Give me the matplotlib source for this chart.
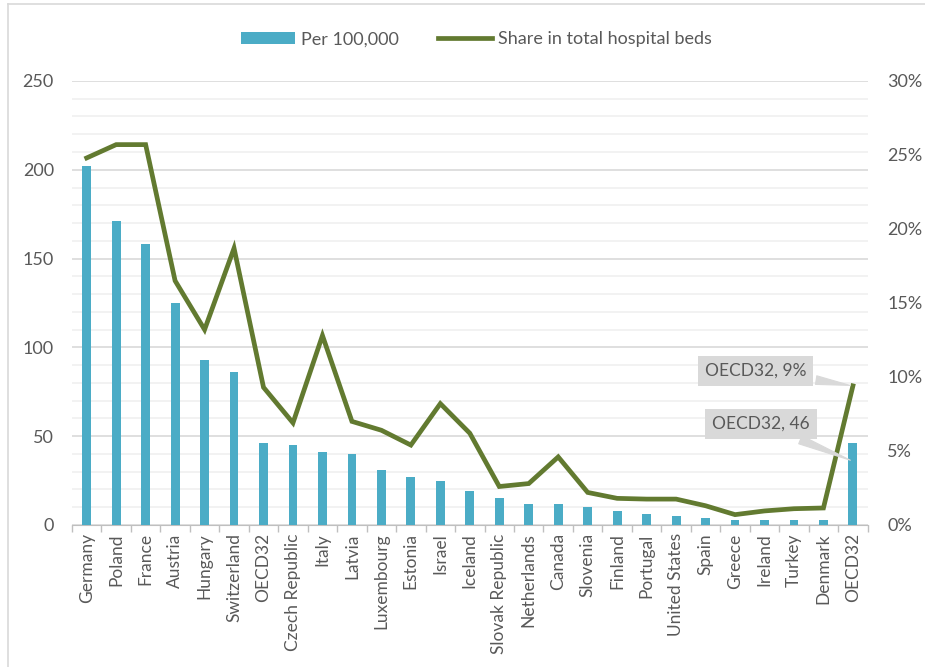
import matplotlib
matplotlib.use("Agg")
import matplotlib.pyplot as plt
from matplotlib.lines import Line2D
from matplotlib.ticker import MultipleLocator, FuncFormatter
import numpy as np

countries = ["Germany", "Poland", "France", "Austria", "Hungary", "Switzerland", "OECD32",
             "Czech Republic", "Italy", "Latvia", "Luxembourg", "Estonia", "Israel", "Iceland",
             "Slovak Republic", "Netherlands", "Canada", "Slovenia", "Finland", "Portugal",
             "United States", "Spain", "Greece", "Ireland", "Turkey", "Denmark", "OECD32"]
per_100k = [202, 171, 158, 125, 93, 86, 46, 45, 41, 40, 31, 27, 25, 19, 15, 12, 12, 10, 8, 6,
            5, 4, 3, 3, 3, 3, 46]
share_pct = [24.8, 25.7, 25.7, 16.5, 13.2, 18.7, 9.3, 6.9, 12.8, 7.0, 6.4, 5.4, 8.2, 6.2,
             2.6, 2.8, 4.6, 2.2, 1.8, 1.75, 1.75, 1.3, 0.7, 0.95, 1.1, 1.15, 9.4]

plt.rcParams['font.family'] = ['Lato', 'DejaVu Sans']
txt = '#595959'
bar_c = '#4BACC6'
line_c = '#627A30'

fig = plt.figure(figsize=(9.25, 6.67), dpi=100)
ax = fig.add_axes([0.0778, 0.2129, 0.8602, 0.6657])
ax2 = ax.twinx()

x = np.arange(len(countries))
ax.bar(x, per_100k, width=0.3, color=bar_c, zorder=3, label='Per 100,000')
ax2.plot(x, share_pct, color=line_c, lw=3.4, solid_joinstyle='miter', zorder=4,
         label='Share in total hospital beds')

ax.set_xlim(-0.5, len(countries) - 0.5)
ax.set_ylim(0, 250)
ax2.set_ylim(0, 30)
ax.yaxis.set_major_locator(MultipleLocator(50))
ax.yaxis.set_minor_locator(MultipleLocator(10))
ax2.yaxis.set_major_locator(MultipleLocator(5))
ax2.yaxis.set_major_formatter(FuncFormatter(lambda v, p: f"{v:.0f}%"))

ax.grid(axis='y', which='minor', color='#f0f0f0', lw=1.2, zorder=0)
ax.grid(axis='y', which='major', color='#d9d9d9', lw=1.2, zorder=1)
ax.set_axisbelow(True)

for a in (ax, ax2):
    for s in a.spines.values():
        s.set_visible(False)
ax.spines['bottom'].set_visible(True)
ax.spines['bottom'].set_color('#bfbfbf')

ax.set_xticks(x)
ax.set_xticklabels(countries, rotation=90, fontsize=12.5, color=txt)
ax.tick_params(axis='x', which='major', length=0, pad=6)
ax.set_xticks(np.arange(-0.5, len(countries), 1), minor=True)
ax.tick_params(axis='x', which='minor', length=5, color='#bfbfbf', width=1)
ax.tick_params(axis='y', which='both', length=0, labelsize=13, labelcolor=txt, pad=13)
ax2.tick_params(axis='y', length=0, labelsize=13, labelcolor=txt, pad=14)

box = dict(boxstyle='square,pad=0.4', fc='#d9d9d9', ec='none')
arrow = dict(arrowstyle='wedge,tail_width=0.5,shrink_factor=0.5', fc='#d9d9d9', ec='#d9d9d9',
             lw=0.8)
ax2.annotate(f"OECD32, {share_pct[-1]:.0f}%", xy=(x[-1], share_pct[-1]), xytext=(-70, 11),
             textcoords='offset points', ha='center', va='center', fontsize=12.5, color=txt,
             bbox=box, arrowprops=arrow, zorder=6)
ax2.annotate(f"OECD32, {per_100k[-1]}", xy=(x[-1], per_100k[-1] * 0.78 * 30 / 250),
             xytext=(-66, 27), textcoords='offset points', ha='center', va='center',
             fontsize=12.5, color=txt, bbox=box, arrowprops=arrow, zorder=6)

h1, l1 = ax.get_legend_handles_labels()
h2, l2 = ax2.get_legend_handles_labels()
fig.legend(h1 + h2, l1 + l2, loc='center', bbox_to_anchor=(0.515, 0.941), ncol=2,
           frameon=False, fontsize=13, labelcolor=txt, handlelength=3.0,
           handletextpad=0.3, columnspacing=2.2)

bx = 7.5 / 925
by = 663.5 / 667
fig.add_artist(Line2D([bx, 1], [by, by], transform=fig.transFigure, color='#d9d9d9', lw=1.2))
fig.add_artist(Line2D([bx, bx], [0, by], transform=fig.transFigure, color='#d9d9d9', lw=1.2))

fig.savefig('out.png', dpi=100)
